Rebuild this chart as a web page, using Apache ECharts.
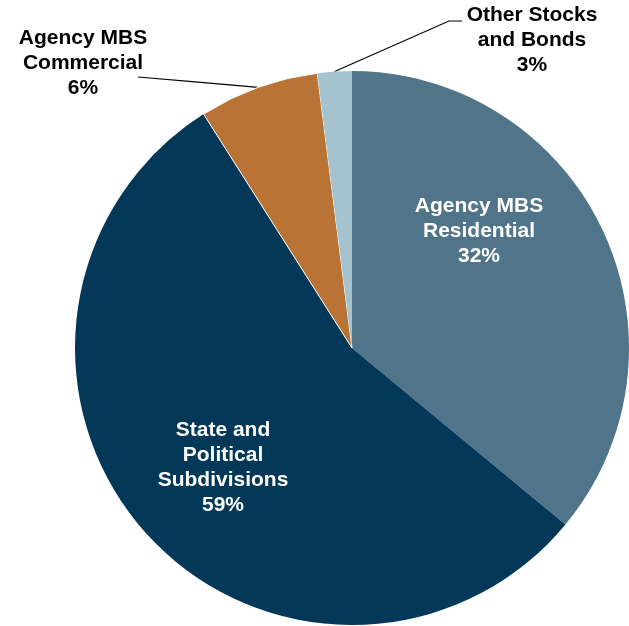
<!DOCTYPE html>
<html>
<head>
<meta charset="utf-8">
<script src="https://cdn.jsdelivr.net/npm/echarts@6/dist/echarts.min.js"></script>
<style>
html,body{margin:0;padding:0;background:#fff;}
#chart{width:629px;height:626px;}
</style>
</head>
<body>
<div id="chart"></div>
<script>
// Category names (as printed, with line breaks)
var categories = ['Agency MBS\nResidential', 'State and\nPolitical\nSubdivisions', 'Agency MBS\nCommercial', 'Other Stocks\nand Bonds'];
// Slice sizes as drawn in the picture (share of the circle, %)
var values = [36, 55, 7, 2];
// Percentages printed on the chart
var printedPct = ['32%', '59%', '6%', '3%'];
var colors = ['#50758A', '#033858', '#B97334', '#A5C3CE'];

var chart = echarts.init(document.getElementById('chart'), null, {renderer: 'canvas'});

var data = categories.map(function (c, i) {
  var inside = i < 2;
  return {
    name: c,
    value: values[i],
    pct: printedPct[i],
    itemStyle: {
      color: colors[i],
      borderColor: '#ffffff',
      borderWidth: i === 2 ? 1 : 0
    },
    label: {
      position: inside ? 'inside' : 'outside',
      color: inside ? '#ffffff' : '#000000'
    },
    labelLine: {show: !inside}
  };
});

var labelSpots = [
  {x: 479, y: 231},
  {x: 83, y: 468},
  {x: 83, y: 63},
  {x: 532, y: 40}
];
labelSpots[1].x = 223;

chart.setOption({
  animation: false,
  backgroundColor: '#ffffff',
  series: [{
    type: 'pie',
    center: [352, 348],
    radius: 277,
    startAngle: 90,
    clockwise: true,
    avoidLabelOverlap: false,
    data: data,
    label: {
      show: true,
      formatter: function (p) { return p.name + '\n' + p.data.pct; },
      fontFamily: '"Liberation Sans", Arial, sans-serif',
      fontWeight: 'bold',
      fontSize: 21,
      lineHeight: 25,
      align: 'center'
    },
    labelLine: {
      show: true,
      lineStyle: {color: '#000000', width: 1.2}
    },
    labelLayout: function (params) {
      var i = params.dataIndex;
      var s = labelSpots[i];
      var out = {x: s.x, y: s.y, align: 'center', verticalAlign: 'middle'};
      if (i === 2 && params.labelLinePoints) {
        var p0 = params.labelLinePoints[0];
        var end = [138, 77];
        out.labelLinePoints = [p0, [(p0[0] + end[0]) / 2, (p0[1] + end[1]) / 2], end];
      }
      if (i === 3 && params.labelLinePoints) {
        var q0 = params.labelLinePoints[0];
        out.labelLinePoints = [q0, [449, 21], [462, 21]];
      }
      return out;
    }
  }]
});
</script>
</body>
</html>
